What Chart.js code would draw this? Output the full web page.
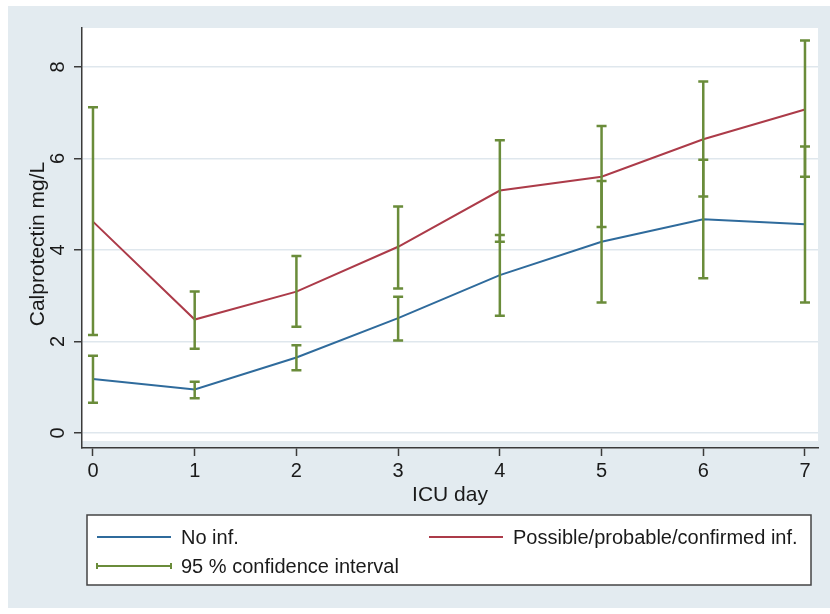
<!DOCTYPE html>
<html>
<head>
<meta charset="utf-8">
<script src="https://cdn.jsdelivr.net/npm/chart.js@4"></script>
<style>
	html, body { margin: 0; padding: 0; background: #ffffff; }
	canvas { display: block; }
</style>
</head>
<body>
<canvas id="calprotectinChart" width="830" height="614"></canvas>
<script>
const days = [0, 1, 2, 3, 4, 5, 6, 7];
const noInf = [1.18, 0.95, 1.65, 2.51, 3.45, 4.18, 4.67, 4.56];
const noInfLow = [0.66, 0.76, 1.37, 2.02, 2.56, 2.85, 3.38, 2.85];
const noInfHigh = [1.69, 1.12, 1.92, 2.98, 4.33, 5.51, 5.97, 6.26];
const inf = [4.62, 2.48, 3.09, 4.07, 5.30, 5.60, 6.42, 7.07];
const infLow = [2.14, 1.84, 2.32, 3.16, 4.18, 4.50, 5.17, 5.60];
const infHigh = [7.12, 3.09, 3.87, 4.95, 6.40, 6.71, 7.68, 8.58];
const yTicks = [0, 2, 4, 6, 8];
const seriesLabels = ['No inf.', 'Possible/probable/confirmed inf.'];
const ciLabel = '95 % confidence interval';

const CHART_CANVAS = document.querySelector('#calprotectinChart');
const FONT = 'Liberation Sans, Arial, Helvetica, sans-serif';
const TEXT_COLOR = '#1a1a1a';
const AXIS_COLOR = '#3a3a3a';
const BLUE = '#2f6b9c';
const RED = '#ac3b49';
const GREEN = '#6a8c3a';
const BG = '#e3ebf0';

function toPoints(values) {
	return values.map((v, i) => ({ x: days[i], y: v }));
}

const backgroundPlugin = {
	id: 'background',
	beforeDraw(chart) {
		const { ctx, chartArea } = chart;
		ctx.save();
		ctx.fillStyle = '#ffffff';
		ctx.fillRect(0, 0, chart.width, chart.height);
		ctx.fillStyle = BG;
		ctx.fillRect(8, 6, chart.width - 8, 602);
		ctx.fillStyle = '#ffffff';
		ctx.fillRect(
			chartArea.left,
			chartArea.top,
			chartArea.right - chartArea.left,
			chartArea.bottom - chartArea.top - 7
		);
		ctx.restore();
	},
};

function drawCaps(ctx, x, yLow, yHigh) {
	ctx.beginPath();
	ctx.moveTo(x, yLow);
	ctx.lineTo(x, yHigh);
	ctx.moveTo(x - 5, yLow);
	ctx.lineTo(x + 5, yLow);
	ctx.moveTo(x - 5, yHigh);
	ctx.lineTo(x + 5, yHigh);
	ctx.stroke();
}

const errorBarPlugin = {
	id: 'errorBars',
	afterDatasetsDraw(chart) {
		const { ctx } = chart;
		const xs = chart.scales.x;
		const ys = chart.scales.y;
		ctx.save();
		ctx.strokeStyle = GREEN;
		ctx.lineWidth = 2.5;
		[[noInfLow, noInfHigh], [infLow, infHigh]].forEach(([low, high]) => {
			days.forEach((d, i) => {
				drawCaps(
					ctx,
					xs.getPixelForValue(d),
					ys.getPixelForValue(low[i]),
					ys.getPixelForValue(high[i])
				);
			});
		});
		ctx.restore();
	},
};

// y tick labels are drawn upright-rotated like the original, with the axis title
const yLabelPlugin = {
	id: 'yLabels',
	afterDraw(chart) {
		const { ctx, chartArea } = chart;
		const ys = chart.scales.y;
		ctx.save();
		ctx.fillStyle = TEXT_COLOR;
		ctx.textAlign = 'center';
		ctx.textBaseline = 'middle';
		ctx.font = `20px ${FONT}`;
		yTicks.forEach(v => {
			ctx.save();
			ctx.translate(57, ys.getPixelForValue(v));
			ctx.rotate(-Math.PI / 2);
			ctx.fillText(String(v), 0, 1);
			ctx.restore();
		});
		ctx.font = `21px ${FONT}`;
		ctx.translate(38, (chartArea.top + chartArea.bottom) / 2 + 6);
		ctx.rotate(-Math.PI / 2);
		ctx.fillText('Calprotectin mg/L', 0, 0);
		ctx.restore();
	},
};

const legendPlugin = {
	id: 'boxLegend',
	afterDraw(chart) {
		const { ctx } = chart;
		const box = { left: 87, top: 515, right: 811, bottom: 585 };
		ctx.save();
		ctx.fillStyle = '#ffffff';
		ctx.fillRect(box.left, box.top, box.right - box.left, box.bottom - box.top);
		ctx.strokeStyle = '#444444';
		ctx.lineWidth = 1.5;
		ctx.strokeRect(box.left, box.top, box.right - box.left, box.bottom - box.top);

		const items = [
			{ x: 97, y: 537, color: BLUE, text: chart.data.datasets[0].label },
			{ x: 429, y: 537, color: RED, text: chart.data.datasets[1].label },
			{ x: 97, y: 566, color: GREEN, text: ciLabel, caps: true },
		];
		ctx.font = `20px ${FONT}`;
		ctx.textBaseline = 'middle';
		items.forEach(item => {
			ctx.strokeStyle = item.color;
			ctx.lineWidth = 2;
			ctx.beginPath();
			ctx.moveTo(item.x, item.y);
			ctx.lineTo(item.x + 74, item.y);
			if (item.caps) {
				ctx.moveTo(item.x, item.y - 3);
				ctx.lineTo(item.x, item.y + 3);
				ctx.moveTo(item.x + 74, item.y - 3);
				ctx.lineTo(item.x + 74, item.y + 3);
			}
			ctx.stroke();
			ctx.fillStyle = TEXT_COLOR;
			ctx.fillText(item.text, item.x + 84, item.y + 1);
		});
		ctx.restore();
	},
};

const chart = new Chart(CHART_CANVAS.getContext('2d'), {
	type: 'line',
	data: {
		datasets: [
			{
				label: seriesLabels[0],
				data: toPoints(noInf),
				borderColor: BLUE,
				borderWidth: 2,
				pointRadius: 0,
				tension: 0,
			},
			{
				label: seriesLabels[1],
				data: toPoints(inf),
				borderColor: RED,
				borderWidth: 2,
				pointRadius: 0,
				tension: 0,
			},
		],
	},
	options: {
		responsive: false,
		animation: false,
		layout: {
			padding: { left: 8, top: 28, right: 12, bottom: 106 },
		},
		scales: {
			x: {
				type: 'linear',
				min: -0.108,
				max: 7.128,
				afterBuildTicks: scale => {
					scale.ticks = days.map(v => ({ value: v }));
				},
				afterFit: scale => {
					scale.height = 60;
				},
				grid: {
					drawOnChartArea: false,
					tickLength: 8,
					tickColor: AXIS_COLOR,
					tickWidth: 1.5,
				},
				border: { display: true, color: AXIS_COLOR, width: 1.5 },
				ticks: {
					padding: 3,
					color: TEXT_COLOR,
					font: { family: FONT, size: 20 },
					maxRotation: 0,
				},
				title: {
					display: true,
					text: 'ICU day',
					color: TEXT_COLOR,
					font: { family: FONT, size: 21 },
					padding: { top: 2, bottom: 0 },
				},
			},
			y: {
				type: 'linear',
				min: -0.328,
				max: 8.852,
				afterBuildTicks: scale => {
					scale.ticks = yTicks.map(v => ({ value: v }));
				},
				afterFit: scale => {
					scale.width = 74;
				},
				grid: {
					color: '#dfe7ed',
					lineWidth: 1.5,
					tickLength: 8,
					tickColor: AXIS_COLOR,
					tickWidth: 1.5,
				},
				border: { display: true, color: AXIS_COLOR, width: 1.5 },
				ticks: { display: false },
				title: { display: false },
			},
		},
		plugins: {
			legend: { display: false },
			tooltip: { enabled: false },
		},
	},
	plugins: [backgroundPlugin, errorBarPlugin, yLabelPlugin, legendPlugin],
});
</script>
</body>
</html>
